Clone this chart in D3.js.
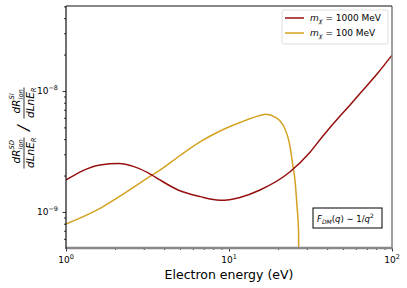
<!DOCTYPE html>
<meta charset="utf-8">
<html lang="en">
  <head>
    <style>
      body { margin: 0; background-color: #fff; }
      svg text { font-family: "DejaVu Sans", sans-serif; fill: #000; }
      .tick line { stroke: #000; stroke-width: 0.8px; }
      .curve { fill: none; stroke-width: 1.5px; }
    </style>
  </head>

  <body>

    <script src="https://cdn.jsdelivr.net/npm/d3@7"></script>

    <svg width="407" height="288"></svg>

    <script>

      // m_chi = 1000 MeV
      var redE = [1, 1.617, 2.114, 2.614, 3.37, 3.77, 4.87, 6.64, 8.81, 11.68, 15.5, 23.7, 31.4, 37.7, 48.0, 55.3, 63.6, 80.9, 100];
      var redY = [1.84e-9, 2.45e-9, 2.52e-9, 2.37e-9, 2.02e-9, 1.84e-9, 1.52e-9, 1.34e-9, 1.25e-9, 1.32e-9, 1.52e-9, 2.15e-9, 3.12e-9, 4.25e-9, 6.21e-9, 7.66e-9, 9.53e-9, 1.38e-8, 1.98e-8];

      // m_chi = 100 MeV
      var goldE = [1, 1.617, 2.085, 3.37, 3.77, 5.01, 6.64, 8.81, 11.68, 15.5, 16.87, 19.15, 21.44, 23.7, 24.7, 25.4, 26.14, 26.7, 27.07];
      var goldY = [7.96e-10, 1.07e-9, 1.32e-9, 2.02e-9, 2.22e-9, 2.93e-9, 3.79e-9, 4.67e-9, 5.49e-9, 6.27e-9, 6.42e-9, 6.09e-9, 5.24e-9, 3.46e-9, 2.37e-9, 1.84e-9, 1.11e-9, 7.1e-10, 1e-10];

      var xMajor = [1, 10, 100];
      var xMajorExp = ["0", "1", "2"];
      var yMajor = [1e-9, 1e-8];
      var yMajorExp = ["\u22129", "\u22128"];

      var pLeft = 66, pRight = 392, pTop = 6, pBottom = 248;

      var svg = d3.select("svg");

      var xScale = d3.scaleLog()
        .domain([1, 100])
        .range([pLeft, pRight]);

      var yScale = d3.scaleLog()
        .domain([5.04e-10, 5.04e-8])
        .range([pBottom, pTop]);

      svg.append("clipPath").attr("id", "plotclip")
        .append("rect")
        .attr("x", pLeft).attr("y", pTop)
        .attr("width", pRight - pLeft).attr("height", pBottom - pTop);

      // minor tick positions
      var xMinor = [];
      [1, 10].forEach(function(d) {
        for (var k = 2; k <= 9; k++) xMinor.push(d * k);
      });
      var yMinor = [];
      [1e-10, 1e-9, 1e-8].forEach(function(d) {
        for (var k = 2; k <= 9; k++) {
          var v = d * k;
          if (v >= 5.04e-10 && v <= 5.04e-8) yMinor.push(v);
        }
      });

      var gx = svg.append("g").attr("transform", "translate(0," + pBottom + ")");
      gx.append("g").call(d3.axisBottom(xScale).tickValues(xMinor).tickSize(2).tickFormat(""));
      gx.append("g").call(d3.axisBottom(xScale).tickValues(xMajor).tickSize(3.5).tickFormat(""));
      gx.selectAll(".domain").remove();

      var gy = svg.append("g").attr("transform", "translate(" + pLeft + ",0)");
      gy.append("g").call(d3.axisLeft(yScale).tickValues(yMinor).tickSize(2).tickFormat(""));
      gy.append("g").call(d3.axisLeft(yScale).tickValues(yMajor).tickSize(3.5).tickFormat(""));
      gy.selectAll(".domain").remove();

      // x tick labels
      xMajor.forEach(function(d, i) {
        var t = svg.append("text")
          .attr("x", xScale(d))
          .attr("y", 263)
          .attr("text-anchor", "middle")
          .style("font-size", "9px");
        t.append("tspan").text("10");
        t.append("tspan").attr("dy", -4).style("font-size", "6.5px").text(xMajorExp[i]);
      });

      // y tick labels
      yMajor.forEach(function(d, i) {
        var t = svg.append("text")
          .attr("x", 58)
          .attr("y", yScale(d) + 3.5)
          .attr("text-anchor", "end")
          .style("font-size", "9px");
        t.append("tspan").text("10");
        t.append("tspan").attr("dy", -4).style("font-size", "6.5px").text(yMajorExp[i]);
      });

      // curves
      var line = d3.line()
        .x(function(d) { return xScale(d[0]); })
        .y(function(d) { return yScale(d[1]); })
        .curve(d3.curveMonotoneX);

      var plot = svg.append("g").attr("clip-path", "url(#plotclip)");

      plot.append("path")
        .datum(goldE.map(function(e, i) { return [e, goldY[i]]; }))
        .attr("class", "curve")
        .attr("stroke", "#d4a020")
        .attr("d", line);

      plot.append("path")
        .datum(redE.map(function(e, i) { return [e, redY[i]]; }))
        .attr("class", "curve")
        .attr("stroke", "#960f0f")
        .attr("d", line);

      // spines
      svg.append("line").attr("x1", pLeft).attr("x2", pRight).attr("y1", pBottom).attr("y2", pBottom)
        .attr("stroke", "#888").attr("stroke-width", 2.5);
      svg.append("line").attr("x1", pRight).attr("x2", pRight).attr("y1", pTop).attr("y2", pBottom + 1.2)
        .attr("stroke", "#888").attr("stroke-width", 1.6);
      svg.append("line").attr("x1", pLeft).attr("x2", pRight).attr("y1", pTop).attr("y2", pTop)
        .attr("stroke", "#111").attr("stroke-width", 1.2);
      svg.append("line").attr("x1", pLeft).attr("x2", pLeft).attr("y1", pTop).attr("y2", pBottom + 1)
        .attr("stroke", "#111").attr("stroke-width", 1.2);

      // legend
      var legend = svg.append("g");
      legend.append("rect")
        .attr("x", 282).attr("y", 10).attr("width", 106).attr("height", 34)
        .attr("rx", 2).attr("fill", "#fff").attr("fill-opacity", 0.8)
        .attr("stroke", "#d6d6d6").attr("stroke-width", 0.8);

      var legendItems = [
        { color: "#960f0f", mass: "1000 MeV" },
        { color: "#d4a020", mass: "100 MeV" }
      ];
      legendItems.forEach(function(d, i) {
        var yy = 18 + i * 15;
        legend.append("line")
          .attr("x1", 285).attr("x2", 304).attr("y1", yy).attr("y2", yy)
          .attr("stroke", d.color).attr("stroke-width", 1.5);
        var t = legend.append("text")
          .attr("x", 310).attr("y", yy + 3)
          .style("font-size", "9px");
        t.append("tspan").style("font-style", "italic").text("m");
        t.append("tspan").attr("dy", 2).style("font-size", "6.3px").style("font-style", "italic").text("\u03c7");
        t.append("tspan").attr("dy", -2).text(" =  " + d.mass);
      });

      // annotation box
      svg.append("rect")
        .attr("x", 313).attr("y", 208).attr("width", 69).attr("height", 20)
        .attr("fill", "#fff").attr("stroke", "#000").attr("stroke-width", 1);
      var ann = svg.append("text").attr("x", 317).attr("y", 221.5).style("font-size", "8.5px");
      ann.append("tspan").style("font-style", "italic").text("F");
      ann.append("tspan").attr("dy", 2).style("font-size", "6px").style("font-style", "italic").text("DM");
      ann.append("tspan").attr("dy", -2).text("(");
      ann.append("tspan").style("font-style", "italic").text("q");
      ann.append("tspan").text(") \u223c 1/");
      ann.append("tspan").style("font-style", "italic").text("q");
      ann.append("tspan").attr("dy", -4).style("font-size", "6px").text("2");

      // x label
      svg.append("text")
        .attr("x", (pLeft + pRight) / 2)
        .attr("y", 279)
        .attr("text-anchor", "middle")
        .style("font-size", "12.5px")
        .text("Electron energy (eV)");

      // y label: two stacked fractions separated by a slash
      var yl = svg.append("g").attr("transform", "translate(24,128) rotate(-90)");

      function fraction(cx, sup) {
        var num = yl.append("text").attr("x", cx - 10.5).attr("y", -4.5).style("font-size", "10.5px").style("font-style", "italic");
        num.append("tspan").text("dR");
        yl.append("text").attr("x", cx + 3.5).attr("y", -10).style("font-size", "6.8px").style("font-style", "italic").text(sup);
        yl.append("text").attr("x", cx + 3.5).attr("y", -1.5).style("font-size", "6.8px").style("font-style", "italic").text("ion");
        yl.append("line").attr("x1", cx - 15.5).attr("x2", cx + 15.5).attr("y1", 0).attr("y2", 0)
          .attr("stroke", "#000").attr("stroke-width", 0.8);
        var den = yl.append("text").attr("x", cx - 15).attr("y", 10).style("font-size", "10.5px").style("font-style", "italic");
        den.append("tspan").text("dLnE");
        den.append("tspan").attr("dy", 1.5).style("font-size", "6.8px").text("R");
      }

      fraction(-25, "SD");
      yl.append("text").attr("x", 0).attr("y", 5).attr("text-anchor", "middle")
        .style("font-size", "16px").style("font-style", "italic").text("/");
      fraction(25, "SI");

    </script>

  </body>
</html>
